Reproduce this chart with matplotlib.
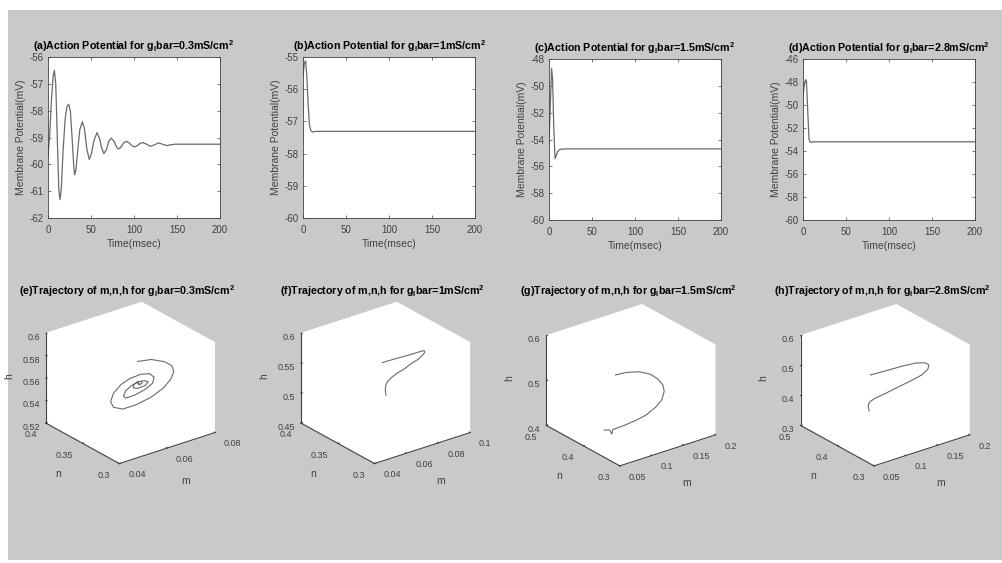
import numpy as np
import matplotlib
matplotlib.use("Agg")
import matplotlib.pyplot as plt
from matplotlib.patches import Rectangle

plt.rcParams['font.family'] = ['Liberation Sans', 'DejaVu Sans']
plt.rcParams['axes.unicode_minus'] = False
plt.rcParams['mathtext.fontset'] = 'custom'
plt.rcParams['mathtext.rm'] = 'Liberation Sans'
plt.rcParams['mathtext.bf'] = 'Liberation Sans:bold'

# ---- data ----
gl_values = ['0.3', '1', '1.5', '2.8']
panel_top = ['a', 'b', 'c', 'd']
panel_bot = ['e', 'f', 'g', 'h']

time_ticks = [0, 50, 100, 150, 200]

t_a = [0, 2, 4, 6, 7.4, 9, 10.7, 12.5, 14, 15.5, 17.5, 20, 22, 24, 26, 28, 30, 31, 32.5, 34.5,
       37, 40, 42.5, 45, 48, 50.5, 53.5, 57, 60, 62.5, 65, 68, 70.5, 73.6, 77, 79.5, 82, 85,
       88, 91.5, 95, 98, 101, 104, 107, 110, 114, 119, 124, 128.7, 133, 138, 143, 148, 200]
v_a = [-59.7, -58.9, -57.6, -56.7, -56.5, -57.0, -58.9, -60.9, -61.32, -60.9, -59.5, -58.3,
       -57.85, -57.76, -58.0, -59.0, -60.1, -60.39, -60.2, -59.5, -58.7, -58.41, -58.7, -59.4,
       -59.82, -59.6, -59.1, -58.82, -59.05, -59.4, -59.6, -59.45, -59.15, -59.02, -59.15,
       -59.35, -59.43, -59.36, -59.2, -59.14, -59.22, -59.32, -59.35, -59.3, -59.22, -59.19,
       -59.24, -59.33, -59.27, -59.2, -59.25, -59.3, -59.27, -59.25, -59.25]

t_b = [0, 1.5, 3, 4.5, 6, 7.5, 9, 11, 15, 200]
v_b = [-55.6, -55.2, -55.12, -55.6, -56.5, -57.1, -57.28, -57.33, -57.31, -57.31]

t_c = [0, 1.5, 3, 4.2, 5.5, 7, 8.5, 10, 13, 20, 200]
v_c = [-54.3, -51.5, -48.7, -49.5, -53.0, -55.43, -55.2, -54.9, -54.73, -54.7, -54.7]

t_d = [0, 1.5, 3, 4, 5.5, 7, 8.5, 12, 200]
v_d = [-49.2, -48.3, -47.8, -47.9, -50.5, -53.0, -53.25, -53.2, -53.2]

ylims_top = [(-62, -56), (-60, -55), (-60, -48), (-60, -46)]
yticks_top = [[-62, -61, -60, -59, -58, -57, -56],
              [-60, -59, -58, -57, -56, -55],
              [-60, -58, -56, -54, -52, -50, -48],
              [-60, -58, -56, -54, -52, -50, -48, -46]]

m_e = [0.0629, 0.0691, 0.0752, 0.0786, 0.0793, 0.0779, 0.0745, 0.0691, 0.0622, 0.0561, 0.0520,
       0.0507, 0.0520, 0.0554, 0.0595, 0.0643, 0.0684, 0.0704, 0.0697, 0.0663, 0.0616, 0.0575,
       0.0565, 0.0575, 0.0602, 0.0636, 0.0663, 0.0677, 0.0663, 0.0629, 0.0609, 0.0612, 0.0629,
       0.0647, 0.0650, 0.0636, 0.0631, 0.0636]
n_e = [0.3498, 0.3514, 0.3529, 0.3538, 0.3539, 0.3536, 0.3527, 0.3514, 0.3497, 0.3481, 0.3471,
       0.3468, 0.3471, 0.3480, 0.3490, 0.3502, 0.3512, 0.3517, 0.3515, 0.3507, 0.3495, 0.3485,
       0.3482, 0.3485, 0.3492, 0.3500, 0.3507, 0.3510, 0.3507, 0.3498, 0.3493, 0.3494, 0.3498,
       0.3503, 0.3504, 0.3500, 0.3499, 0.3500]
h_e = [0.5773, 0.5742, 0.5675, 0.5609, 0.5552, 0.5496, 0.5444, 0.5406, 0.5391, 0.5401, 0.5450,
       0.5509, 0.5574, 0.5625, 0.5648, 0.5647, 0.5621, 0.5574, 0.5525, 0.5496, 0.5483, 0.5488,
       0.5515, 0.5553, 0.5580, 0.5588, 0.5575, 0.5553, 0.5531, 0.5533, 0.5553, 0.5580, 0.5592,
       0.5581, 0.5562, 0.5558, 0.5579, 0.5570]

m_f = [0.0679, 0.0764, 0.0856, 0.0928, 0.0958, 0.0964, 0.0948, 0.0917, 0.0867, 0.0825, 0.0775,
       0.0734, 0.0703, 0.0687, 0.0679, 0.0679]
n_f = [0.350, 0.351, 0.352, 0.353, 0.354, 0.354, 0.354, 0.353, 0.352, 0.351, 0.350, 0.349,
       0.348, 0.347, 0.346, 0.345]
h_f = [0.5610, 0.5593, 0.5571, 0.5557, 0.5543, 0.5511, 0.5469, 0.5438, 0.5415, 0.5377, 0.5354,
       0.5326, 0.5285, 0.5245, 0.5169, 0.5099]

m_g = [0.0828, 0.0915, 0.0945, 0.0960, 0.0995, 0.1148, 0.1326, 0.1505, 0.1657, 0.1757, 0.1794,
       0.1769, 0.1681, 0.1555, 0.1376, 0.1174, 0.0995]
n_g = [0.400, 0.400, 0.399, 0.400, 0.400, 0.401, 0.402, 0.403, 0.404, 0.404, 0.404, 0.403,
       0.402, 0.401, 0.400, 0.399, 0.398]
h_g = [0.4198, 0.4159, 0.4057, 0.4139, 0.4146, 0.4148, 0.4165, 0.4207, 0.4302, 0.4426, 0.4593,
       0.4750, 0.4937, 0.5105, 0.5246, 0.5327, 0.5358]

m_h = [0.1007, 0.1262, 0.1517, 0.1745, 0.1898, 0.1964, 0.1948, 0.1846, 0.1669, 0.1465, 0.1262,
       0.1084, 0.1007, 0.0983, 0.0998]
n_h = [0.398, 0.399, 0.401, 0.403, 0.404, 0.405, 0.405, 0.404, 0.403, 0.402, 0.401, 0.400,
       0.400, 0.400, 0.400]
h_h = [0.5028, 0.4988, 0.4948, 0.4882, 0.4780, 0.4654, 0.4525, 0.4406, 0.4340, 0.4280, 0.4217,
       0.4174, 0.4111, 0.3996, 0.3820]

m_lims = [(0.04, 0.08), (0.04, 0.1), (0.05, 0.2), (0.05, 0.2)]
n_lims = [(0.3, 0.4), (0.3, 0.4), (0.3, 0.5), (0.3, 0.5)]
h_lims = [(0.52, 0.6), (0.45, 0.6), (0.4, 0.6), (0.3, 0.6)]
m_ticks = [[0.04, 0.06, 0.08], [0.04, 0.06, 0.08, 0.1], [0.05, 0.1, 0.15, 0.2], [0.05, 0.1, 0.15, 0.2]]
n_ticks = [[0.3, 0.35, 0.4], [0.3, 0.35, 0.4], [0.3, 0.4, 0.5], [0.3, 0.4, 0.5]]
h_ticks = [[0.52, 0.54, 0.56, 0.58, 0.6], [0.45, 0.5, 0.55, 0.6], [0.4, 0.5, 0.6], [0.3, 0.4, 0.5, 0.6]]

# ---- figure ----
W, H = 1003, 563
fig = plt.figure(figsize=(W / 100, H / 100), dpi=100, facecolor='white')
fig.patches.append(Rectangle((8 / W, 3 / H), 1 - 8 / W, (H - 13) / H, transform=fig.transFigure,
                             facecolor='#c9c9c9', edgecolor='none', zorder=-10))

def px_rect(x0, y0, w, h):
    return [x0 / W, 1 - (y0 + h) / H, w / W, h / H]

LINE = '#6a6a6a'
AXC = '#404040'

top_pos = [(48, 57), (303, 57), (549, 59), (803, 59)]
top_t = [t_a, t_b, t_c, t_d]
top_v = [v_a, v_b, v_c, v_d]

for i in range(4):
    ax = fig.add_axes(px_rect(top_pos[i][0], top_pos[i][1], 172, 161))
    ax.plot(top_t[i], top_v[i], color=LINE, lw=0.9)
    ax.set_xlim(0, 200)
    ax.set_ylim(ylims_top[i])
    ax.set_xticks(time_ticks)
    ax.set_yticks(yticks_top[i])
    ax.tick_params(direction='in', top=True, right=True, length=2.5, width=0.5,
                   labelsize=7, colors=AXC)
    ax.tick_params(axis='x', pad=5)
    ax.tick_params(axis='y', pad=3)
    for s in ax.spines.values():
        s.set_color(AXC)
        s.set_linewidth(0.6)
    ax.set_xlabel('Time(msec)', fontsize=7.5, color=AXC, labelpad=3)
    ax.set_ylabel('Membrane Potential(mV)', fontsize=7.5, color=AXC, labelpad=3)
    ax.set_title('(%s)Action Potential for g$_\\mathbf{l}$bar=%smS/cm$^\\mathbf{2}$'
                 % (panel_top[i], gl_values[i]), fontsize=7.7, fontweight='bold', pad=5)

bot_center = [(127.5, 386), (382.7, 386), (628, 388.3), (882.2, 388.3)]
bot_m = [m_e, m_f, m_g, m_h]
bot_n = [n_e, n_f, n_g, n_h]
bot_h = [h_e, h_f, h_g, h_h]
S = 220

for i in range(4):
    cx, cy = bot_center[i]
    ax = fig.add_axes(px_rect(cx - S / 2, cy - S / 2, S, S), projection='3d')
    ax.set_facecolor((0, 0, 0, 0))
    ax.set_proj_type('ortho')
    ax.view_init(elev=25, azim=-127.5)
    ax.set_box_aspect((1, 1, 0.82), zoom=0.87)
    ax.plot(bot_m[i], bot_n[i], bot_h[i], color=LINE, lw=0.8)
    ax.set_xlim(m_lims[i])
    ax.set_ylim(n_lims[i])
    ax.set_zlim(h_lims[i])
    ax.set_xticks(m_ticks[i])
    ax.set_yticks(n_ticks[i])
    ax.set_zticks(h_ticks[i])
    ax.set_xticklabels(['%g' % v for v in m_ticks[i]], ha='left', va='bottom')
    ax.set_yticklabels(['%g' % v for v in n_ticks[i]], ha='right', va='center')
    ax.set_zticklabels(['%g' % v for v in h_ticks[i]], ha='right')
    ax.grid(False)
    for a in (ax.xaxis, ax.yaxis, ax.zaxis):
        a.set_pane_color((1, 1, 1, 1))
        a.line.set_color(AXC)
        a.line.set_linewidth(0.8)
        a._axinfo['tick']['inward_factor'] = 0.0
        a._axinfo['tick']['outward_factor'] = 0.15
        a._axinfo['tick']['color'] = AXC
    ax.tick_params(labelsize=6.5, colors=AXC, pad=0)
    ax.tick_params(axis='x', pad=2)
    ax.tick_params(axis='z', pad=-5)
    ax.set_xlabel('m', fontsize=7.5, color=AXC, labelpad=0)
    ax.set_ylabel('n', fontsize=7.5, color=AXC, labelpad=0)
    ax.zaxis.set_rotate_label(False)
    ax.set_zlabel('h', fontsize=7.5, color=AXC, labelpad=-3, rotation=90)
    fig.text(cx / W, 1 - 291 / H,
             '(%s)Trajectory of m,n,h for g$_\\mathbf{l}$bar=%smS/cm$^\\mathbf{2}$'
             % (panel_bot[i], gl_values[i]), fontsize=7.7, fontweight='bold',
             ha='center', va='center')

fig.savefig('out.png', dpi=100, facecolor=fig.get_facecolor())
